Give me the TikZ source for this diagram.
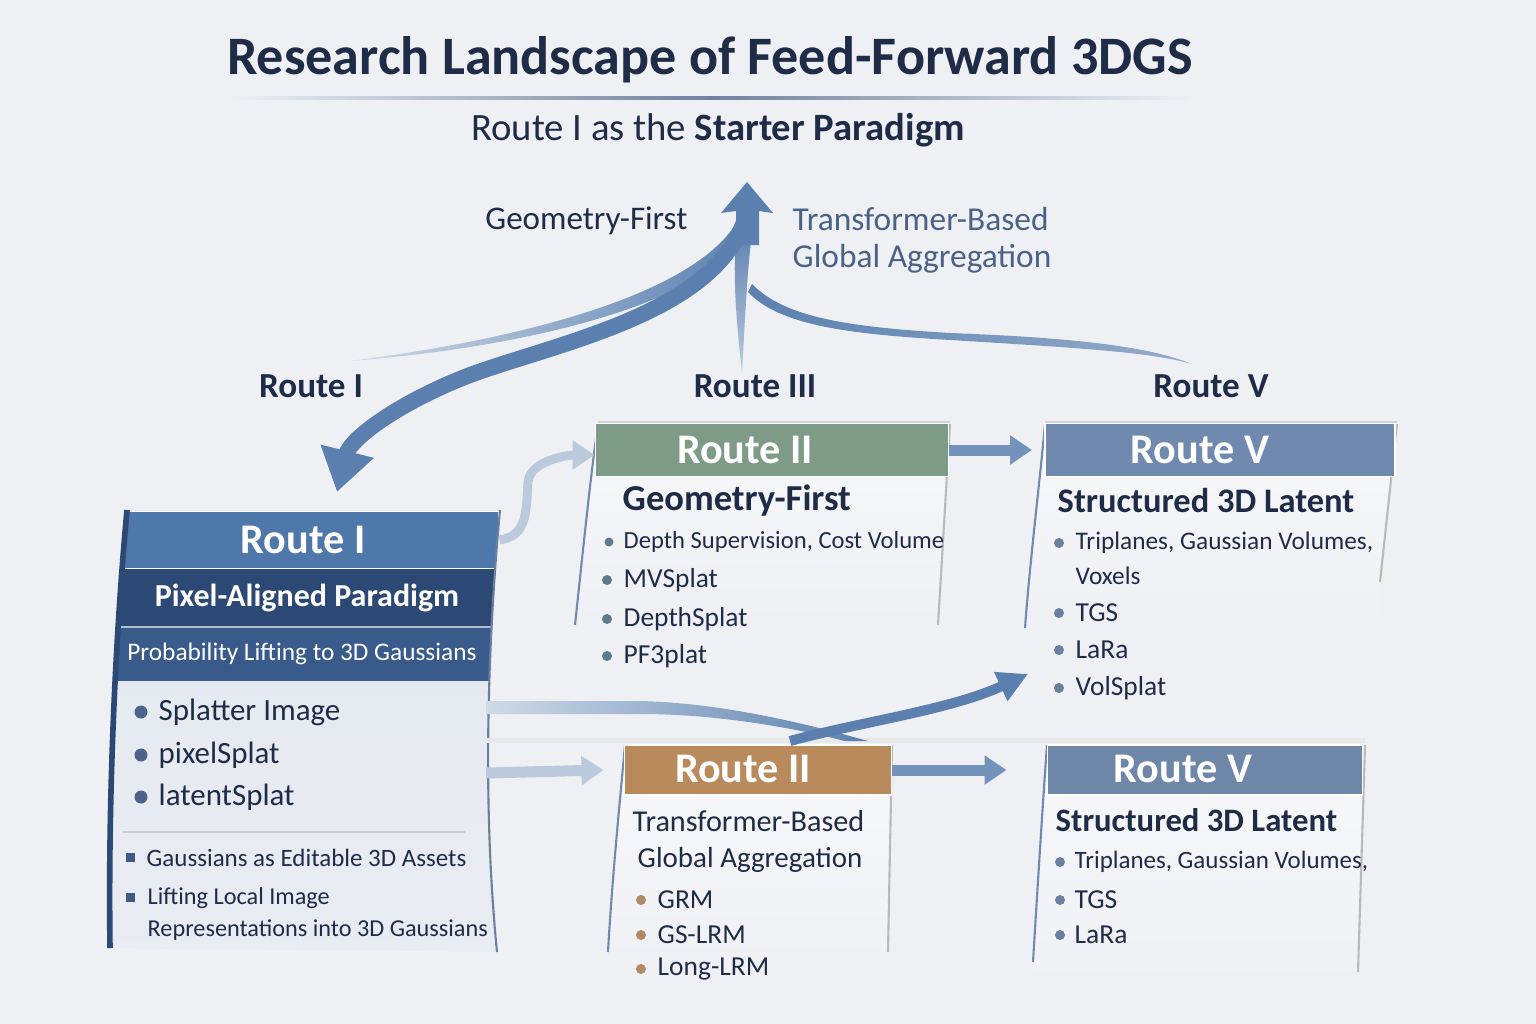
\documentclass[tikz,border=0pt]{standalone}
\usepackage{fontspec}
\setmainfont{Carlito}
\usetikzlibrary{arrows.meta,positioning}

\definecolor{bgcol}{HTML}{EFF0F4}
\definecolor{navy}{HTML}{1F2C47}
\definecolor{routeblue}{HTML}{4E78AA}
\definecolor{deepblue}{HTML}{2C4875}
\definecolor{midblue}{HTML}{385B8C}
\definecolor{cardblue}{HTML}{E4E8F0}
\definecolor{sage}{HTML}{7D9B87}
\definecolor{slate}{HTML}{7089AE}
\definecolor{slatedark}{HTML}{6E86A8}
\definecolor{tan}{HTML}{B88A5C}
\definecolor{arrowblue}{HTML}{5B80B0}
\definecolor{paleblue}{HTML}{BACADC}
\definecolor{labelblue}{HTML}{4A6286}
\definecolor{dotteal}{HTML}{5E7D8C}
\definecolor{dotblue}{HTML}{6A80A0}
\definecolor{dottan}{HTML}{B08B66}

\begin{document}
\begin{tikzpicture}[x=0.01cm, y=-0.01cm,
  txt/.style={inner sep=0pt, text=navy},
  hdrtxt/.style={inner sep=0pt, text=white, font=\fontsize{12}{14}\selectfont\bfseries},
  band/.style={inner sep=0pt, draw=white!80, line width=0.5pt},
  item/.style={txt, anchor=west, font=\fontsize{7.8}{9}\selectfont},
  small/.style={txt, anchor=west, font=\fontsize{7}{9}\selectfont},
  head/.style={txt, anchor=west, font=\fontsize{9.8}{11}\selectfont\bfseries},
  conn/.style={line width=0.11cm, -{Triangle[length=0.22cm, width=0.28cm]}},
  edge/.style={line width=0.6pt},
  body/.style={top color=white!55!bgcol, bottom color=bgcol},
]

  % background and page size
  \fill[bgcol] (0,0) rectangle (1536,1024);
  \useasboundingbox (0,0) rectangle (1536,1024);

  % title block
  \node[txt, font=\fontsize{15.4}{18}\selectfont\bfseries] (title) at (710,60)
    {Research Landscape of Feed-Forward 3DGS};
  \shade[left color=bgcol, right color=bgcol, middle color=labelblue!80] (228,96) rectangle (1192,99);
  \node[txt, font=\fontsize{11}{13}\selectfont] (subtitle) at (718,130)
    {Route I as the \textbf{Starter Paradigm}};

  % labels around the central arrow
  \node[txt, anchor=east, font=\fontsize{9.4}{11}\selectfont] (geolbl) at (688,221) {Geometry-First};
  \node[txt, anchor=west, text=labelblue, align=left, font=\fontsize{9.5}{10.6}\selectfont] (trflbl)
    at (792,240) {Transformer-Based\\Global Aggregation};

  \node[txt, font=\fontsize{10}{12}\selectfont\bfseries] (lblI) at (311,386) {Route I};
  \node[txt, font=\fontsize{10}{12}\selectfont\bfseries] (lblIII) at (755,386) {Route III};
  \node[txt, font=\fontsize{10}{12}\selectfont\bfseries] (lblV) at (1211,386) {Route V};

  % streamers joining the central arrow
  \coordinate (apex) at (747,182);
  \shade[left color=paleblue!70, right color=arrowblue] (350,361) .. controls (500,342) and (690,300) .. (737,222)
    -- (752,226) .. controls (712,305) and (520,348) .. (350,361) -- cycle;
  \shade[top color=arrowblue, bottom color=paleblue] (742,372) .. controls (736,320) and (732,270) .. (737,224)
    -- (753,224) .. controls (747,270) and (745,320) .. (742,372) -- cycle;
  \shade[left color=arrowblue, right color=paleblue!60!arrowblue] (748,292) .. controls (780,326) and (850,334) .. (950,340)
    .. controls (1080,348) and (1150,352) .. (1192,364) .. controls (1150,347) and (1080,338) .. (950,333)
    .. controls (850,327) and (785,318) .. (752,284) -- cycle;

  % central arrow head
  \fill[arrowblue] (apex) -- (773,213) -- (759,211) -- (759,245) -- (736,245) -- (736,211) -- (721,213) -- cycle;

  % big arrow down to Route I
  \draw[arrowblue, line width=0.16cm, -{Triangle[length=0.42cm, width=0.52cm]}]
    (747,212) .. controls (722,312) and (560,342) .. (470,375) .. controls (395,404) and (350,440) .. (337,492);

  % ---------------- Route I card ----------------
  \def\cardI{(127,510) -- (500,510) .. controls (488,640) and (482,800) .. (497,952)
    .. controls (400,950) and (200,950) .. (110,948) .. controls (108,800) and (115,640) .. (127,510) -- cycle}
  \shade[top color=cardblue, bottom color=cardblue!55!bgcol] \cardI;
  \begin{scope}
    \clip \cardI;
    \node[band, fill=routeblue, minimum width=3.75cm, minimum height=0.57cm] (r1hd) at (311,540) {};
    \node[hdrtxt] (r1txt) at (303,540) {Route I};
    \node[inner sep=0pt, fill=deepblue, minimum width=3.8cm, minimum height=0.58cm, text=white,
      font=\fontsize{9.1}{11}\selectfont\bfseries] (r1par) at (307,598) {Pixel-Aligned Paradigm};
    \node[inner sep=0pt, fill=midblue, minimum width=3.8cm, minimum height=0.53cm, text=white,
      font=\fontsize{7.2}{9}\selectfont] (r1prob) at (302,654) {Probability Lifting to 3D Gaussians};
    \draw[white!60!midblue, line width=0.4pt] (100,627) -- (520,627);
  \end{scope}
  \draw[deepblue, line width=1.6pt] (127,510) .. controls (115,640) and (108,800) .. (110,948);
  \draw[deepblue!70, edge] (500,510) .. controls (488,640) and (482,800) .. (497,952);

  \foreach \y/\t in {712/Splatter Image, 755/pixelSplat, 797/latentSplat} {
    \fill[deepblue!85] (141,\y) circle (6.5);
    \node[item, font=\fontsize{8.8}{10}\selectfont] (r1i\y) at (158,\y) {\t};
  }
  \draw[gray!40] (123,832) -- (465,832);
  \fill[deepblue!90] (126,853) rectangle (135,862);
  \node[small, font=\fontsize{7.1}{9}\selectfont] (r1asset) at (146,858) {Gaussians as Editable 3D Assets};
  \fill[deepblue!90] (126,893) rectangle (135,902);
  \node[small, align=left, font=\fontsize{6.9}{9.1}\selectfont] (r1lift) at (147,914)
    {Lifting Local Image\\Representations into 3D Gaussians};

  % ---------------- Route II (Geometry-First) card ----------------
  \shade[body] (598,424) -- (950,424) .. controls (945,520) and (940,580) .. (938,625)
    -- (575,625) .. controls (582,560) and (590,480) .. (598,424) -- cycle;
  \draw[gray!35] (598,422) -- (950,422);
  \draw[slate, edge] (598,424) .. controls (590,480) and (582,560) .. (575,625);
  \draw[gray!55, edge] (950,424) -- (938,625);
  \node[band, fill=sage, minimum width=3.53cm, minimum height=0.53cm] (r2ahd) at (772,450) {};
  \node[hdrtxt] (r2atxt) at (745,450) {Route II};
  \node[head, font=\fontsize{10.4}{12}\selectfont\bfseries] (r2ahead) at (622,501) {Geometry-First};
  \fill[dotteal] (609,542) circle (4.5);
  \node[small] (r2adepth) at (623,542) {Depth Supervision, Cost Volume};
  \foreach \y/\t in {580/MVSplat, 619/DepthSplat, 656/PF3plat} {
    \fill[dotteal] (607,\y) circle (5);
    \node[item] (r2a\y) at (623,\y) {\t};
  }

  % ---------------- Route V (top) card ----------------
  \shade[body] (1045,424) -- (1397,424) .. controls (1392,480) and (1385,540) .. (1380,582)
    -- (1380,628) -- (1025,628) .. controls (1032,560) and (1040,480) .. (1045,424) -- cycle;
  \draw[gray!35] (1045,422) -- (1397,422);
  \draw[slate, edge] (1045,424) .. controls (1040,480) and (1030,560) .. (1025,628);
  \draw[gray!55, edge] (1397,424) -- (1380,582);
  \node[band, fill=slate, minimum width=3.5cm, minimum height=0.53cm] (r5ahd) at (1220,450) {};
  \node[hdrtxt] (r5atxt) at (1200,450) {Route V};
  \node[head] (r5ahead) at (1057,501) {Structured 3D Latent};
  \fill[dotblue] (1059,543) circle (5);
  \node[small, font=\fontsize{7.2}{9}\selectfont] (r5atri) at (1075,543) {Triplanes, Gaussian Volumes,};
  \node[small, font=\fontsize{7.2}{9}\selectfont] (r5avox) at (1075,576) {Voxels};
  \foreach \y/\t in {613/TGS, 650/LaRa, 688/VolSplat} {
    \fill[dotblue] (1059,\y) circle (5);
    \node[item] (r5a\y) at (1075,\y) {\t};
  }

  % faint shelf line
  \draw[gray!18, line width=0.05cm] (485,740) -- (1365,740);

  % ---------------- Route II (Transformer-Based) card ----------------
  \shade[body] (625,745) -- (892,745) -- (888,990) -- (606,990) .. controls (612,880) and (620,800) .. (625,745) -- cycle;
  \draw[slate, edge] (625,745) .. controls (620,800) and (612,880) .. (608,952);
  \draw[gray!55, edge] (892,745) -- (888,952);
  \node[band, fill=tan, minimum width=2.67cm, minimum height=0.5cm] (r2bhd) at (758,770) {};
  \node[hdrtxt] (r2btxt) at (743,769) {Route II};
  \node[item, font=\fontsize{8.6}{10}\selectfont] (r2bhead1) at (632,821) {Transformer-Based};
  \node[item, font=\fontsize{8.25}{10}\selectfont] (r2bhead2) at (637,860) {Global Aggregation};
  \foreach \y/\t in {900/GRM, 935/GS-LRM, 969/Long-LRM} {
    \fill[dottan] (641,\y) circle (5);
    \node[item] (r2b\y) at (657,\y) {\t};
  }

  % ---------------- Route V (bottom) card ----------------
  \shade[body] (1047,745) -- (1365,745) -- (1358,985) -- (1032,985) .. controls (1038,880) and (1043,800) .. (1047,745) -- cycle;
  \draw[slate, edge] (1047,745) .. controls (1043,800) and (1038,880) .. (1033,962);
  \draw[gray!55, edge] (1365,745) -- (1358,972);
  \node[band, fill=slatedark, minimum width=3.15cm, minimum height=0.5cm] (r5bhd) at (1205,770) {};
  \node[hdrtxt] (r5btxt) at (1183,769) {Route V};
  \node[head, font=\fontsize{9.3}{11}\selectfont\bfseries] (r5bhead) at (1055,820) {Structured 3D Latent};
  \fill[dotblue] (1060,862) circle (5);
  \node[small, font=\fontsize{7.1}{9}\selectfont] (r5btri) at (1074,862) {Triplanes, Gaussian Volumes,};
  \foreach \y/\t in {900/TGS, 935/LaRa} {
    \fill[dotblue] (1060,\y) circle (5);
    \node[item] (r5b\y) at (1074,\y) {\t};
  }

  % ---------------- connectors between cards ----------------
  \draw[conn, paleblue, line width=0.09cm] (r1hd.east) .. controls +(28,-4) and +(-2,30) .. (528,482)
    .. controls +(2,-22) and +(-25,0) .. ([yshift=-0.05cm]r2ahd.west);
  \draw[conn, arrowblue!85] (r2ahd.east) -- ([xshift=-0.12cm]r5ahd.west);

  \coordinate (r1out) at (486,773);
  \draw[conn, paleblue] (r1out) -- ([xshift=-0.2cm]r2bhd.west);
  \draw[conn, arrowblue!85] (r2bhd.east) -- ([xshift=-0.4cm]r5bhd.west);

  % the crossing pair
  \coordinate (r1wave) at (486,708);
  \coordinate (r5aport) at (1028,674);
  \shade[left color=paleblue!70, right color=arrowblue] (r1wave) -- ++(0,-7) -- (640,701)
    .. controls (720,703) and (800,722) .. (868,741) -- (845,741)
    .. controls (790,727) and (715,714) .. (640,714) -- (486,714) -- cycle;
  \draw[arrowblue, line width=0.1cm, -{Triangle[length=0.3cm, width=0.3cm]}]
    (790,741) .. controls (860,722) and (950,710) .. (r5aport);

\end{tikzpicture}
\end{document}
